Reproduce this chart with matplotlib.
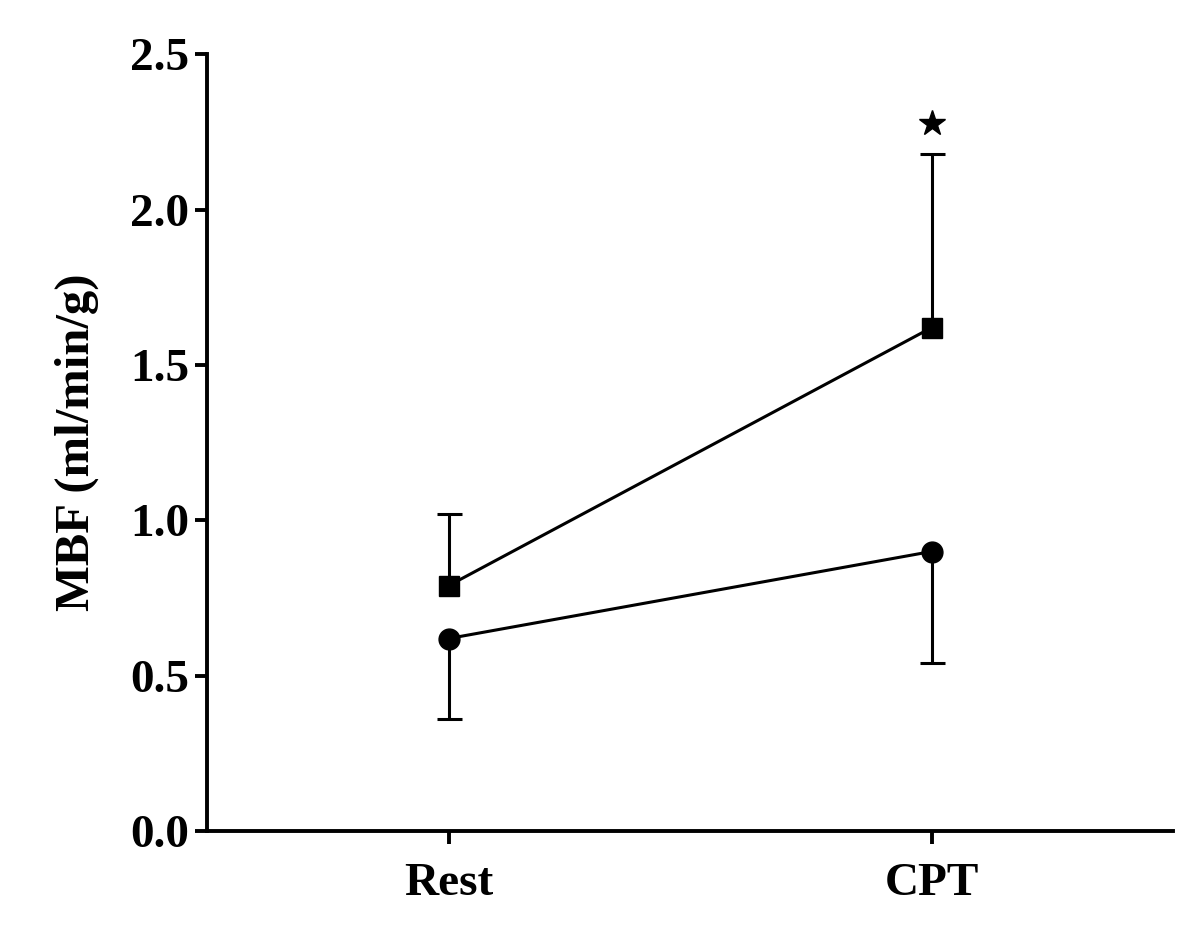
import numpy as np
import matplotlib.pyplot as plt

# Data
conditions = ['Rest', 'CPT']
square_mean = [0.79, 1.62]
square_err_up = [0.23, 0.56]
circle_mean = [0.62, 0.90]
circle_err_down = [0.26, 0.36]
star_y = 2.28
yticks = [0.0, 0.5, 1.0, 1.5, 2.0, 2.5]

plt.rcParams['font.family'] = 'Liberation Serif'
plt.rcParams['font.weight'] = 'bold'

fig = plt.figure(figsize=(12, 9.33), dpi=100)
ax = fig.add_axes([0.1725, 0.109, 0.805, 0.833])

x = np.arange(len(conditions))

# square series, error bar above only
sq = ax.errorbar(x, square_mean, yerr=[np.zeros(2), square_err_up], color='black',
                 marker='s', markersize=14, linewidth=2.2, elinewidth=2.2,
                 capsize=9, capthick=2.2)
sq[1][0].set_visible(False)  # hide cap sitting on the marker

# circle series, error bar below only
ci = ax.errorbar(x, circle_mean, yerr=[circle_err_down, np.zeros(2)], color='black',
                 marker='o', markersize=15, linewidth=2.2, elinewidth=2.2,
                 capsize=9, capthick=2.2)
ci[1][1].set_visible(False)

ax.plot(x[1], star_y, marker='*', color='black', markersize=19, linestyle='none')

ax.set_xlim(-0.5, 1.5)
ax.set_ylim(0, 2.5)
ax.set_xticks(x)
ax.set_xticklabels(conditions)
ax.set_yticks(yticks)
ax.set_yticklabels([f'{v:.1f}' for v in yticks])
ax.set_ylabel('MBF (ml/min/g)', fontsize=35, fontweight='bold', labelpad=22)

for side in ['top', 'right']:
    ax.spines[side].set_visible(False)
for side in ['left', 'bottom']:
    ax.spines[side].set_linewidth(2.8)

ax.tick_params(axis='both', direction='out', length=9, width=2.8, labelsize=34)
ax.tick_params(axis='x', pad=14)
ax.tick_params(axis='y', pad=4)

fig.savefig('out.png', dpi=100)
